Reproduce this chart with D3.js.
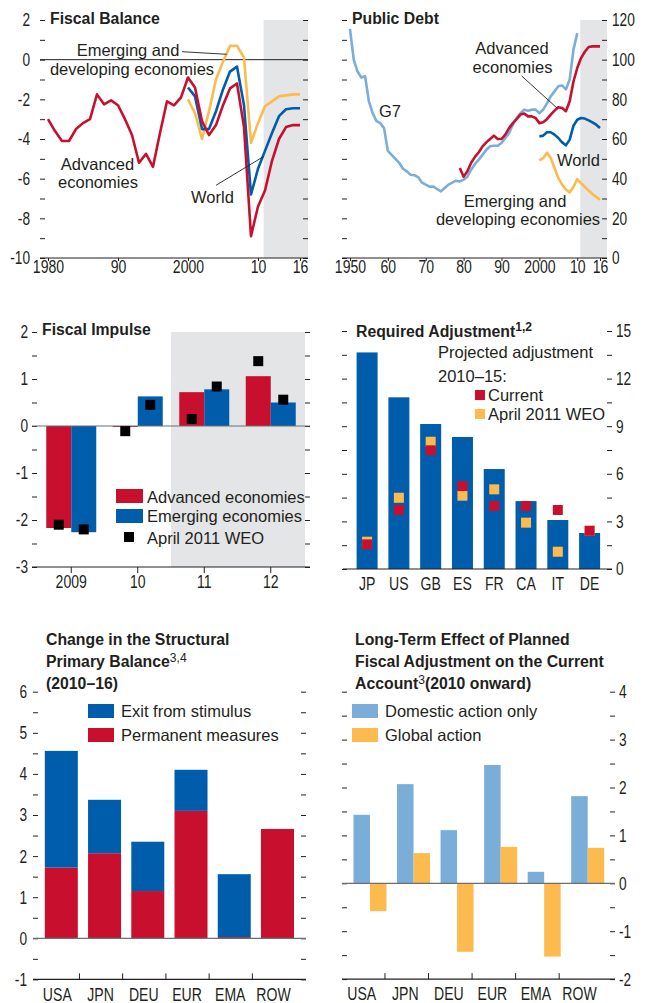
<!DOCTYPE html>
<html>
<head>
<meta charset="utf-8">
<script src="https://cdn.jsdelivr.net/npm/d3@7"></script>
<style>
    body { margin: 0; background: #fff; }
    svg text { font-family: "Liberation Sans", Arial, sans-serif; fill: #231f20; }
    .tick line { stroke: #231f20; }
    .tick text { font-size: 18.5px; }
    .title { font-weight: bold; font-size: 17px; }
    .lbl { font-size: 16.5px; }
</style>
</head>
<body>
<svg id="chart" width="647" height="1003"></svg>
<script>
// FISCAL BALANCE (percent of GDP)
var fbYears = d3.range(1980, 2017);
var fbYearsEm = d3.range(2000, 2017);
var fbAdvanced = [-3.0, -3.6, -4.1, -4.1, -3.5, -3.2, -3.0, -1.75, -2.25, -2.05,
    -2.3, -3.0, -3.8, -5.2, -4.75, -5.4, -3.7, -2.1, -2.3, -1.9,
    -0.9, -1.4, -3.1, -3.8, -3.3, -2.3, -1.45, -1.2, -3.4, -8.9,
    -7.4, -6.6, -5.1, -4.0, -3.4, -3.3, -3.3];
var fbWorld = [-1.4, -1.85, -3.5, -3.5, -2.6, -1.5, -0.6, -0.35, -2.3, -6.8,
    -5.5, -4.6, -3.7, -2.85, -2.5, -2.45, -2.45];
var fbEmerging = [-2.0, -2.7, -4.0, -2.6, -1.0, -0.1, 0.7, 0.7, 0.1, -4.2,
    -3.2, -2.35, -2.1, -1.85, -1.8, -1.75, -1.75];

// PUBLIC DEBT (percent of GDP)
var pdYearsG7 = d3.range(1950, 2011);
var pdYearsAdv = d3.range(1979, 2017);
var pdYearsEm = d3.range(2000, 2017);
var pdG7 = [115.5, 100, 94, 91, 91.6, 79, 73, 69, 68, 65.5,
    54, 52, 50, 48, 45, 43.7, 42, 41.7, 40.8, 38,
    37, 36, 36, 34.8, 33.6, 35.3, 37, 38, 39, 38.6,
    39.5, 41, 44.5, 47.4, 49.6, 52, 54.6, 56.3, 56.6, 56.6,
    58, 60.5, 63, 67.2, 70.6, 73, 74.8, 74.3, 74.8, 74.8,
    73, 74.8, 78, 81.5, 84, 86.6, 87, 85, 90, 105,
    113.4];
var pdAdvanced = [45.4, 41, 43.7, 48, 51, 53.3, 56.3, 58.3, 60, 61.7,
    60, 60, 62.2, 65.5, 68, 70, 72.3, 72.8, 71.4, 71.4,
    70.6, 68, 68.4, 70, 72.3, 74.3, 76, 75.6, 74, 79,
    89, 95.8, 100.8, 104, 106.4, 106.7, 106.7, 106.7];
var pdWorld = [61.3, 61.7, 63.4, 63.4, 62.2, 60.5, 58.3, 56.8, 59.7, 66.7,
    69.7, 70.6, 70.3, 69.4, 68.4, 67.2, 65.5];
var pdEmerging = [49.2, 50.4, 53, 50.4, 45.4, 40.3, 37, 34.5, 33.1, 35.8,
    39.8, 37.8, 35.8, 34, 32.3, 30.8, 29.4];

// FISCAL IMPULSE
var fiYears = ['2009', '10', '11', '12'];
var fiAdvanced = [-2.17, -0.02, 0.72, 1.06];
var fiEmerging = [-2.26, 0.63, 0.78, 0.50];
var fiWeoAdvanced = [-2.10, -0.11, 0.15, 1.38];
var fiWeoEmerging = [-2.20, 0.45, 0.84, 0.56];

// REQUIRED ADJUSTMENT
var raCountries = ['JP', 'US', 'GB', 'ES', 'FR', 'CA', 'IT', 'DE'];
var raRequired = [13.65, 10.82, 9.14, 8.32, 6.30, 4.28, 3.09, 2.27];
var raCurrent = [1.55, 3.72, 7.48, 5.23, 3.97, 3.97, 3.72, 2.41];
var raWeo = [1.72, 4.49, 8.02, 4.62, 5.02, 2.92, 1.09, 2.41];

// STRUCTURAL PRIMARY BALANCE
var spRegions = ['USA', 'JPN', 'DEU', 'EUR', 'EMA', 'ROW'];
var spPermanent = [1.72, 2.07, 1.15, 3.10, 0.03, 2.66];
var spExit = [2.84, 1.30, 1.20, 1.00, 1.53, 0];

// CURRENT ACCOUNT EFFECT
var caRegions = ['USA', 'JPN', 'DEU', 'EUR', 'EMA', 'ROW'];
var caDomestic = [1.43, 2.07, 1.11, 2.47, 0.24, 1.82];
var caGlobal = [-0.58, 0.63, -1.43, 0.76, -1.53, 0.74];

var INK = '#231f20', RED = '#c8102e', BLUE = '#005dab', ORANGE = '#fdba4f',
    LIGHT = '#7aaed8', SHADE = '#e4e5e7', ZERO = '#6d6e71';

var svg = d3.select('#chart');

// narrow a text horizontally about its anchor point (condensed face stand-in)
var squeeze = function(sel, s) {
    sel.each(function() {
        var tx = +(this.getAttribute('x') || 0);
        d3.select(this).attr('transform',
            'translate(' + tx + ',0) scale(' + s + ',1) translate(' + (-tx) + ',0)');
    });
};

// vertical edge ticks, pointing inward; labels only where asked
var edgeAxis = function(g, scale, x, side, values, isLabel, pad) {
    var axis = (side === 'left' ? d3.axisLeft(scale) : d3.axisRight(scale))
        .tickValues(values)
        .tickSizeInner(-5)
        .tickSizeOuter(0)
        .tickPadding(pad)
        .tickFormat(function(d) { return isLabel(d) ? String(d) : ''; });
    g.append('g')
        .attr('transform', 'translate(' + x + ',0)')
        .call(axis)
        .call(function(a) {
            a.select('.domain').remove();
            squeeze(a.selectAll('text'), 0.74);
        });
};

var hline = function(g, x1, x2, y, color, width) {
    g.append('line')
        .attr('x1', x1).attr('x2', x2)
        .attr('y1', y).attr('y2', y)
        .attr('stroke', color)
        .attr('stroke-width', width);
};

var label = function(g, x, y, text, anchor, cls) {
    var t = g.append('text')
        .attr('class', cls || 'lbl')
        .attr('x', x).attr('y', y)
        .attr('text-anchor', anchor || 'start')
        .text(text);
    if (cls === 'title') {
        squeeze(t, 0.93);
    }
    return t;
};

var leader = function(g, x1, y1, x2, y2) {
    g.append('line')
        .attr('x1', x1).attr('y1', y1).attr('x2', x2).attr('y2', y2)
        .attr('stroke', INK).attr('stroke-width', 0.9);
};

var series = function(g, xs, ys, x, y, color) {
    g.append('path')
        .datum(d3.zip(xs, ys))
        .attr('fill', 'none')
        .attr('stroke', color)
        .attr('stroke-width', 2.6)
        .attr('stroke-linejoin', 'round')
        .attr('d', d3.line()
            .x(function(d) { return x(d[0]); })
            .y(function(d) { return y(d[1]); }));
};

var bottomAxis = function(g, axis, tx, ty, x1, x2) {
    g.append('g')
        .attr('transform', 'translate(' + tx + ',' + ty + ')')
        .call(axis)
        .call(function(a) {
            a.select('.domain').remove();
            squeeze(a.selectAll('text'), 0.76);
        });
    hline(g, x1, x2, ty, INK, 1.2);
};

// PANEL 1: FISCAL BALANCE
(function() {
    var g = svg.append('g');
    var x = d3.scaleLinear().domain([1978.857, 2017.143]).range([40, 308]);
    var y = d3.scaleLinear().domain([-10, 2]).range([258, 20]);

    g.append('rect')
        .attr('x', x(2010.8)).attr('y', y(2))
        .attr('width', x(2017.143) - x(2010.8))
        .attr('height', y(-10) - y(2))
        .attr('fill', SHADE);

    edgeAxis(g, y, 40, 'left', d3.range(-10, 2.1, 1), function(d) { return d % 2 === 0; }, 10);
    edgeAxis(g, y, 308, 'right', d3.range(-10, 2.1, 1), function() { return false; }, 0);

    hline(g, 40, 308, y(0), INK, 1);

    series(g, fbYearsEm, fbEmerging, x, y, ORANGE);
    series(g, fbYearsEm, fbWorld, x, y, BLUE);
    series(g, fbYears, fbAdvanced, x, y, RED);

    bottomAxis(g, d3.axisBottom(x).tickValues([1980, 1990, 2000, 2010, 2016])
            .tickSize(3).tickPadding(-1.5)
            .tickFormat(function(d) { return d === 1980 || d === 2000 ? String(d) : String(d % 100); }),
        0, y(-10), 40, 308);

    label(g, 50, 24, 'Fiscal Balance', 'start', 'title');
    label(g, 128, 56, 'Emerging and', 'middle');
    label(g, 132, 75, 'developing economies', 'middle');
    leader(g, 182, 51.7, 226.7, 54.3);
    label(g, 97.5, 170, 'Advanced', 'middle');
    label(g, 98, 188.3, 'economies', 'middle');
    label(g, 212.5, 202.7, 'World', 'middle');
    leader(g, 216, 185.3, 263.3, 156.7);
})();

// PANEL 2: PUBLIC DEBT
(function() {
    var g = svg.append('g');
    var x = d3.scaleLinear().domain([1947.9, 2017.85]).range([342, 607]);
    var y = d3.scaleLinear().domain([0, 120]).range([258, 20]);

    g.append('rect')
        .attr('x', x(2010.8)).attr('y', y(120))
        .attr('width', x(2017.85) - x(2010.8))
        .attr('height', y(0) - y(120))
        .attr('fill', SHADE);

    edgeAxis(g, y, 342, 'left', d3.range(0, 121, 10), function() { return false; }, 0);
    edgeAxis(g, y, 607, 'right', d3.range(0, 121, 10), function(d) { return d % 20 === 0; }, 5);

    series(g, pdYearsG7, pdG7, x, y, LIGHT);
    series(g, pdYearsEm, pdEmerging, x, y, ORANGE);
    series(g, pdYearsEm, pdWorld, x, y, BLUE);
    series(g, pdYearsAdv, pdAdvanced, x, y, RED);

    bottomAxis(g, d3.axisBottom(x).tickValues([1950, 1960, 1970, 1980, 1990, 2000, 2010, 2016])
            .tickSize(3).tickPadding(-1)
            .tickFormat(function(d) { return d === 1950 || d === 2000 ? String(d) : String(d % 100); }),
        0, y(0), 342, 607);

    label(g, 352, 24, 'Public Debt', 'start', 'title');
    label(g, 390, 116.7, 'G7', 'middle');
    label(g, 512, 54.3, 'Advanced', 'middle');
    label(g, 512.5, 72.7, 'economies', 'middle');
    leader(g, 521.7, 76, 557.3, 108.3);
    label(g, 578.5, 165.7, 'World', 'middle');
    label(g, 515, 206.7, 'Emerging and', 'middle');
    label(g, 518, 225, 'developing economies', 'middle');
})();

// PANEL 3: FISCAL IMPULSE
(function() {
    var g = svg.append('g');
    var x = d3.scaleBand().domain(fiYears).range([38, 304]);
    var y = d3.scaleLinear().domain([-3, 2]).range([567, 332]);
    var bw = 25;
    var cx = function(d) { return x(d) + x.bandwidth() / 2; };

    g.append('rect')
        .attr('x', cx('10') + x.step() / 2).attr('y', y(2))
        .attr('width', 305 - (cx('10') + x.step() / 2))
        .attr('height', y(-3) - y(2))
        .attr('fill', SHADE);

    edgeAxis(g, y, 32, 'left', d3.range(-3, 2.1, 0.5), function(d) { return d % 1 === 0; }, 4);
    edgeAxis(g, y, 310, 'right', d3.range(-3, 2.1, 0.5), function() { return false; }, 0);

    var bars = [
        { values: fiAdvanced, color: RED, off: -bw },
        { values: fiEmerging, color: BLUE, off: 0 }
    ];
    bars.forEach(function(s) {
        g.append('g').selectAll('rect')
            .data(fiYears).enter()
            .append('rect')
            .attr('x', function(d) { return cx(d) + s.off; })
            .attr('y', function(d, i) { return y(Math.max(0, s.values[i])); })
            .attr('width', bw)
            .attr('height', function(d, i) { return Math.abs(y(s.values[i]) - y(0)); })
            .attr('fill', s.color);
    });

    hline(g, 32, 310, y(0), ZERO, 1.2);

    var marks = [
        { values: fiWeoAdvanced, off: -bw / 2 },
        { values: fiWeoEmerging, off: bw / 2 }
    ];
    marks.forEach(function(s) {
        g.append('g').selectAll('rect')
            .data(fiYears).enter()
            .append('rect')
            .attr('x', function(d) { return cx(d) + s.off - 5; })
            .attr('y', function(d, i) { return y(s.values[i]) - 5; })
            .attr('width', 10).attr('height', 10)
            .attr('fill', '#000');
    });

    bottomAxis(g, d3.axisBottom(x).tickSize(6).tickPadding(1.5), 0, y(-3), 32, 310);

    // legend
    var legend = [
        { name: 'Advanced economies', color: RED, y: 489, w: 27, h: 14, dx: 116, base: 502.7 },
        { name: 'Emerging economies', color: BLUE, y: 509, w: 27, h: 14, dx: 116, base: 522.3 },
        { name: 'April 2011 WEO', color: '#000', y: 532, w: 10, h: 10, dx: 124, base: 544.3 }
    ];
    legend.forEach(function(l) {
        g.append('rect').attr('x', l.dx).attr('y', l.y).attr('width', l.w).attr('height', l.h).attr('fill', l.color);
        label(g, 147, l.base, l.name);
    });

    label(g, 42, 335, 'Fiscal Impulse', 'start', 'title');
})();

// PANEL 4: REQUIRED ADJUSTMENT
(function() {
    var g = svg.append('g');
    var x = d3.scaleBand().domain(raCountries).range([351.2, 605.5]);
    var y = d3.scaleLinear().domain([0, 15]).range([569, 331]);
    var cx = function(d) { return x(d) + x.bandwidth() / 2; };

    edgeAxis(g, y, 342, 'left', d3.range(0, 15.1, 1.5), function() { return false; }, 0);
    edgeAxis(g, y, 612, 'right', d3.range(0, 15.1, 1.5), function(d) { return d % 3 === 0; }, 4);

    g.append('g').selectAll('rect')
        .data(raCountries).enter()
        .append('rect')
        .attr('x', function(d) { return cx(d) - 10.5; })
        .attr('y', function(d, i) { return y(raRequired[i]); })
        .attr('width', 21)
        .attr('height', function(d, i) { return y(0) - y(raRequired[i]); })
        .attr('fill', BLUE);

    [{ values: raWeo, color: ORANGE }, { values: raCurrent, color: RED }].forEach(function(s) {
        g.append('g').selectAll('rect')
            .data(raCountries).enter()
            .append('rect')
            .attr('x', function(d) { return cx(d) - 5; })
            .attr('y', function(d, i) { return y(s.values[i]) - 5; })
            .attr('width', 10).attr('height', 10)
            .attr('fill', s.color);
    });

    bottomAxis(g, d3.axisBottom(x).tickSize(0).tickPadding(8), 0, y(0), 343, 612);

    var t = label(g, 356, 337, 'Required Adjustment', 'start', 'title');
    t.append('tspan').attr('dy', -6).style('font-size', '13px').text('1,2');

    label(g, 438, 358.3, 'Projected adjustment');
    label(g, 438, 381.7, '2010\u201315:');
    [{ name: 'Current', color: RED, y: 390, base: 400.7 },
     { name: 'April 2011 WEO', color: ORANGE, y: 409, base: 420 }].forEach(function(l) {
        g.append('rect').attr('x', 475).attr('y', l.y).attr('width', 10).attr('height', 10).attr('fill', l.color);
        label(g, 488, l.base, l.name);
    });
})();

// PANEL 5: CHANGE IN THE STRUCTURAL PRIMARY BALANCE
(function() {
    var g = svg.append('g');
    var x = d3.scaleBand().domain(spRegions).range([39.7, 299.1]);
    var y = d3.scaleLinear().domain([-1, 6]).range([979.4, 691.7]);
    var cx = function(d) { return x(d) + x.bandwidth() / 2; };
    var bw = 33;

    edgeAxis(g, y, 33, 'left', d3.range(-1, 6.1, 0.5), function(d) { return d % 1 === 0; }, 6);
    edgeAxis(g, y, 306, 'right', d3.range(-1, 6.1, 0.5), function() { return false; }, 0);

    var stack = d3.stack().keys([0, 1]).value(function(d, k) { return k === 0 ? spPermanent[d] : spExit[d]; });
    var layers = stack(d3.range(spRegions.length));
    var colors = [RED, BLUE];

    layers.forEach(function(layer, li) {
        g.append('g').selectAll('rect')
            .data(layer).enter()
            .append('rect')
            .attr('x', function(d, i) { return cx(spRegions[i]) - bw / 2; })
            .attr('y', function(d) { return y(d[1]); })
            .attr('width', bw)
            .attr('height', function(d) { return y(d[0]) - y(d[1]); })
            .attr('fill', colors[li]);
    });

    hline(g, 33, 306, y(0), ZERO, 1.2);

    bottomAxis(g, d3.axisBottom(x).tickSize(0).tickPadding(8), -4, y(-1), 33, 306);

    g.append('g').selectAll('line')
        .data(spRegions.slice(0, -1)).enter()
        .append('line')
        .attr('x1', function(d) { return x(d) + x.step() - 3.5; })
        .attr('x2', function(d) { return x(d) + x.step() - 3.5; })
        .attr('y1', y(-1)).attr('y2', y(-1) - 6)
        .attr('stroke', INK);

    [{ name: 'Exit from stimulus', color: BLUE, y: 704, base: 716.7 },
     { name: 'Permanent measures', color: RED, y: 728, base: 740.7 }].forEach(function(l) {
        g.append('rect').attr('x', 88).attr('y', l.y).attr('width', 26).attr('height', 14).attr('fill', l.color);
        label(g, 121, l.base, l.name);
    });

    label(g, 46, 645, 'Change in the Structural', 'start', 'title');
    var t = label(g, 46, 667, 'Primary Balance', 'start', 'title');
    t.append('tspan').attr('dy', -5).style('font-size', '13px').style('font-weight', 'normal').text('3,4');
    label(g, 46, 689, '(2010\u201316)', 'start', 'title');
})();

// PANEL 6: LONG-TERM EFFECT ON THE CURRENT ACCOUNT
(function() {
    var g = svg.append('g');
    var x = d3.scaleBand().domain(caRegions).range([348.2, 609.5]);
    var y = d3.scaleLinear().domain([-2, 4]).range([979.1, 691.7]);
    var cx = function(d) { return x(d) + x.bandwidth() / 2; };
    var bw = 16.5;

    edgeAxis(g, y, 342, 'left', d3.range(-2, 4.1, 0.5), function() { return false; }, 0);
    edgeAxis(g, y, 615, 'right', d3.range(-2, 4.1, 0.5), function(d) { return d % 1 === 0; }, 4);

    [{ values: caDomestic, color: LIGHT, off: -bw }, { values: caGlobal, color: ORANGE, off: 0 }].forEach(function(s) {
        g.append('g').selectAll('rect')
            .data(caRegions).enter()
            .append('rect')
            .attr('x', function(d) { return cx(d) + s.off; })
            .attr('y', function(d, i) { return y(Math.max(0, s.values[i])); })
            .attr('width', bw)
            .attr('height', function(d, i) { return Math.abs(y(s.values[i]) - y(0)); })
            .attr('fill', s.color);
    });

    hline(g, 342, 615, y(0), ZERO, 1.2);

    bottomAxis(g, d3.axisBottom(x).tickSize(0).tickPadding(8), -bw / 2, y(-2), 342, 615);

    g.append('g').selectAll('line')
        .data(caRegions.slice(0, -1)).enter()
        .append('line')
        .attr('x1', function(d) { return cx(d) + 15; })
        .attr('x2', function(d) { return cx(d) + 15; })
        .attr('y1', y(-2)).attr('y2', y(-2) - 6)
        .attr('stroke', INK);

    [{ name: 'Domestic action only', color: LIGHT, y: 704, base: 716.7 },
     { name: 'Global action', color: ORANGE, y: 728, base: 740.7 }].forEach(function(l) {
        g.append('rect').attr('x', 352).attr('y', l.y).attr('width', 26).attr('height', 14).attr('fill', l.color);
        label(g, 385, l.base, l.name);
    });

    label(g, 355, 645, 'Long-Term Effect of Planned', 'start', 'title');
    label(g, 355, 667, 'Fiscal Adjustment on the Current', 'start', 'title');
    var t = label(g, 355, 689, 'Account', 'start', 'title');
    t.append('tspan').attr('dy', -5).style('font-size', '13px').style('font-weight', 'normal').text('3');
    t.append('tspan').attr('dy', 5).text('(2010 onward)');
})();
</script>
</body>
</html>
